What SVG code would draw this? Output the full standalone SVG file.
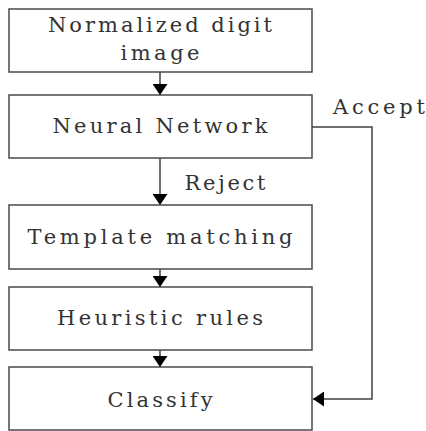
<svg xmlns="http://www.w3.org/2000/svg" width="426" height="431" viewBox="0 0 426 431">
  <style>
    .box { fill: #ffffff; stroke: #4a4a4a; stroke-width: 1.5; }
    .lbl { font-family: "DejaVu Serif", "Liberation Serif", serif; font-size: 21px; fill: #333333; text-anchor: middle; }
    .edge { fill: none; stroke: #404040; stroke-width: 1.5; }
  </style>
  <defs>
    <marker id="arrow" markerWidth="11" markerHeight="15" refX="11" refY="7.5" orient="auto" markerUnits="userSpaceOnUse">
      <path d="M0,0 L11,7.5 L0,15 Z" fill="#000000"/>
    </marker>
  </defs>
  <rect width="426" height="431" fill="#ffffff"/>

  <g id="connectors">
    <line class="edge" x1="160" y1="72" x2="160" y2="95" marker-end="url(#arrow)"/>
    <line class="edge" x1="160" y1="158" x2="160" y2="205" marker-end="url(#arrow)"/>
    <line class="edge" x1="160" y1="269" x2="160" y2="287" marker-end="url(#arrow)"/>
    <line class="edge" x1="160" y1="350" x2="160" y2="367" marker-end="url(#arrow)"/>
    <polyline class="edge" points="312,127 372,127 372,399 313,399" marker-end="url(#arrow)"/>
    <text class="lbl" x="225" y="190" textLength="81" lengthAdjust="spacing">Reject</text>
    <text class="lbl" x="379" y="114" textLength="92" lengthAdjust="spacing">Accept</text>
  </g>

  <g id="node-input">
    <rect class="box" x="9" y="9" width="303" height="63"/>
    <text class="lbl" x="160" y="32" textLength="224" lengthAdjust="spacing">Normalized digit</text>
    <text class="lbl" x="160" y="60" textLength="79" lengthAdjust="spacing">image</text>
  </g>

  <g id="node-nn">
    <rect class="box" x="9" y="95" width="303" height="63"/>
    <text class="lbl" x="160" y="133" textLength="215" lengthAdjust="spacing">Neural Network</text>
  </g>

  <g id="node-template">
    <rect class="box" x="9" y="205" width="303" height="64"/>
    <text class="lbl" x="160" y="244" textLength="265" lengthAdjust="spacing">Template matching</text>
  </g>

  <g id="node-heuristic">
    <rect class="box" x="9" y="287" width="303" height="63"/>
    <text class="lbl" x="160" y="325" textLength="206" lengthAdjust="spacing">Heuristic rules</text>
  </g>

  <g id="node-classify">
    <rect class="box" x="9" y="367" width="303" height="63"/>
    <text class="lbl" x="160" y="407" textLength="105" lengthAdjust="spacing">Classify</text>
  </g>
</svg>
